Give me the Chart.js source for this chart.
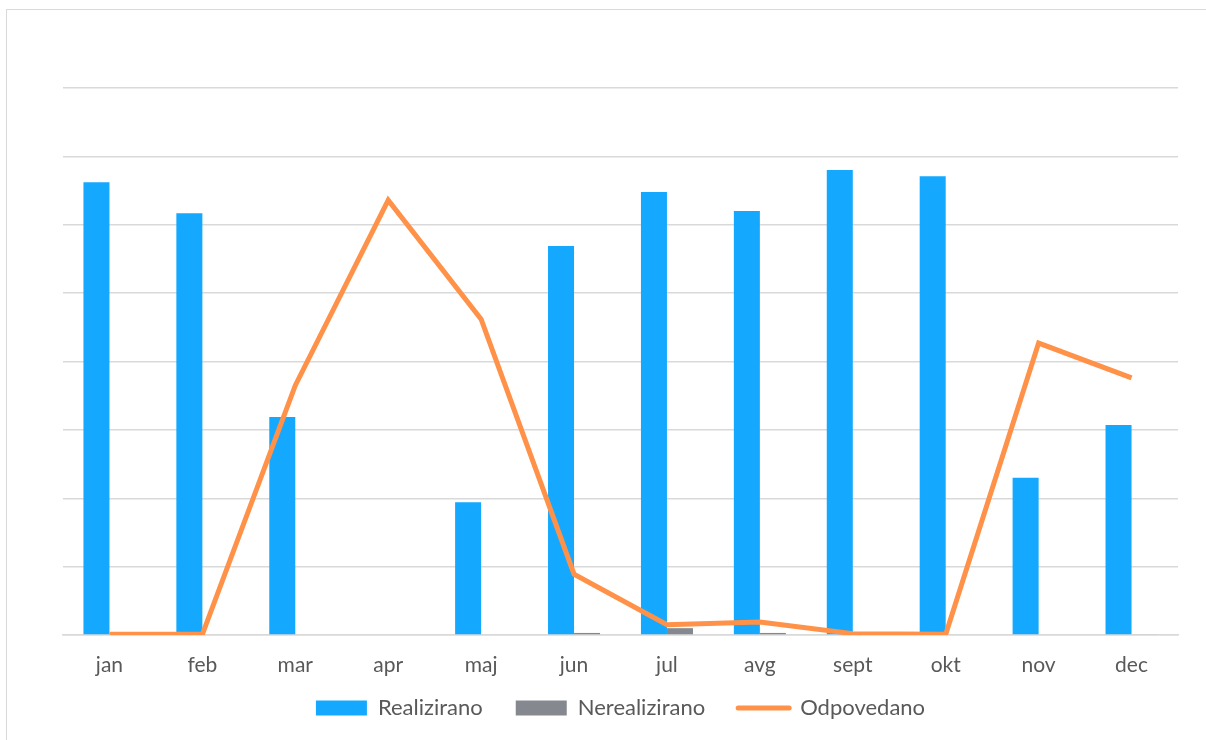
<!DOCTYPE html>
<html>
<head>
<meta charset="utf-8">
<script src="https://cdn.jsdelivr.net/npm/chart.js@4.4.0/dist/chart.umd.min.js"></script>
<style>
  html, body { margin: 0; padding: 0; background: #fff; overflow: hidden; }
  #wrap { position: absolute; left: 0; top: 0; width: 1206px; height: 740px; }
  #frame { position: absolute; left: 6px; top: 9px; width: 1300px; height: 800px; border: 1.5px solid #d9d9d9; box-sizing: border-box; }
  canvas { position: absolute; left: 0; top: 0; }
</style>
</head>
<body>
<div id="wrap">
  <div id="frame"></div>
  <canvas id="c" width="1206" height="740"></canvas>
</div>
<script>
const categories = ['jan', 'feb', 'mar', 'apr', 'maj', 'jun', 'jul', 'avg', 'sept', 'okt', 'nov', 'dec'];
const realizirano = [66.2, 61.7, 31.9, 0, 19.4, 56.9, 64.8, 62.0, 68.0, 67.1, 23.0, 30.7];
const nerealizirano = [0, 0, 0, 0, 0, 0.3, 1.0, 0.3, 0, 0, 0, 0.1];
const odpovedano = [0.1, 0.1, 36.5, 63.6, 46.2, 8.9, 1.5, 1.9, 0.2, 0.1, 42.7, 37.6];
const yMax = 80;
const yStep = 10;

const BLUE = '#14A9FF';
const GREY = '#85898F';
const ORANGE = '#FF9248';
const TEXT = '#595959';
const GRID = '#d9d9d9';
const FONT = 'Lato, "Open Sans", sans-serif';

const legendShift = {
  id: 'legendShift',
  afterLayout(chart) {
    const l = chart.legend;
    if (l) { l.top -= 19; }
  }
};

new Chart(document.getElementById('c'), {
  data: {
    labels: categories,
    datasets: [
      { type: 'line', label: 'Odpovedano', data: odpovedano, borderColor: ORANGE, backgroundColor: ORANGE,
        borderWidth: 5, pointRadius: 0, tension: 0, borderJoinStyle: 'miter', order: 0 },
      { type: 'bar', label: 'Realizirano', data: realizirano, backgroundColor: BLUE, borderWidth: 0,
        categoryPercentage: 0.56, barPercentage: 1.0, order: 1 },
      { type: 'bar', label: 'Nerealizirano', data: nerealizirano, backgroundColor: GREY, borderWidth: 0,
        categoryPercentage: 0.56, barPercentage: 1.0, order: 2 }
    ]
  },
  plugins: [legendShift],
  options: {
    responsive: false,
    animation: false,
    devicePixelRatio: 1,
    layout: { padding: { left: 63, right: 28, top: 88, bottom: 12 } },
    scales: {
      x: {
        grid: { display: false, drawTicks: false },
        border: { display: true, color: GRID, width: 1.5 },
        ticks: { color: TEXT, font: { family: FONT, size: 21 }, padding: 18, maxRotation: 0 },
        afterFit: (s) => { s.height = 48; }
      },
      y: {
        min: 0, max: yMax,
        ticks: { display: false, stepSize: yStep },
        grid: { color: GRID, lineWidth: 1.5, drawTicks: false },
        border: { display: false },
        afterFit: (s) => { s.width = 0; }
      }
    },
    plugins: {
      tooltip: { enabled: false },
      legend: {
        position: 'bottom',
        maxHeight: 45,
        labels: {
          color: TEXT,
          font: { family: FONT, size: 22 },
          usePointStyle: true,
          pointStyleWidth: 51,
          boxHeight: 15,
          padding: 33,
          generateLabels: (chart) => {
            const items = Chart.defaults.plugins.legend.labels.generateLabels(chart);
            const orderMap = { 'Realizirano': 0, 'Nerealizirano': 1, 'Odpovedano': 2 };
            items.forEach(it => {
              const ds = chart.data.datasets[it.datasetIndex];
              if (ds.type === 'line') {
                it.pointStyle = 'line';
                it.lineWidth = 5;
                it.strokeStyle = ORANGE;
                it.lineCap = 'round';
              } else {
                it.pointStyle = 'rect';
                it.lineWidth = 0;
                it.strokeStyle = 'rgba(0,0,0,0)';
              }
            });
            items.sort((a, b) => orderMap[a.text] - orderMap[b.text]);
            return items;
          }
        }
      }
    }
  }
});
</script>
</body>
</html>
